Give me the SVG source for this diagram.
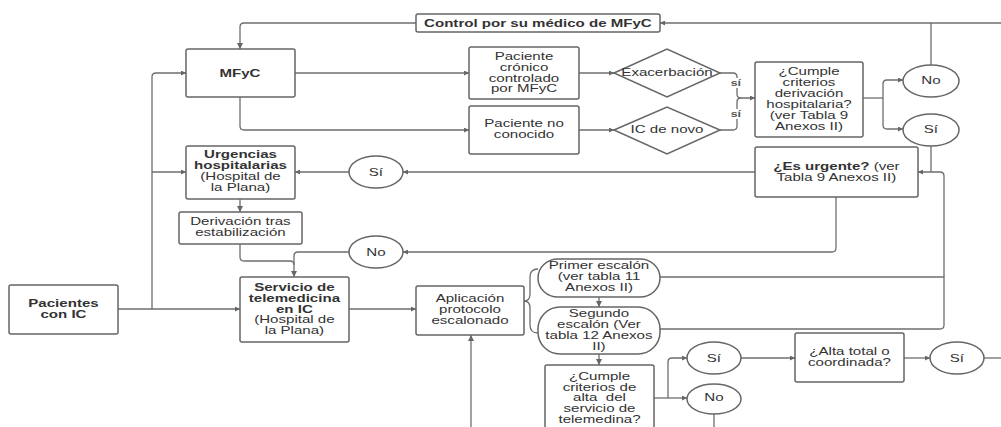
<svg xmlns="http://www.w3.org/2000/svg" width="1001" height="427" viewBox="0 0 1001 427">
<style>
rect,polygon,ellipse{fill:#fff;stroke:#666;stroke-width:1.5}
.c path{fill:none;stroke:#6e6e6e;stroke-width:1.3}
text{font-family:"Liberation Sans",Arial,sans-serif;font-size:11px;fill:#333;text-anchor:middle;transform-box:fill-box;transform-origin:center;transform:scaleX(1.37)}
.b{font-weight:bold}
.s{font-size:9px;font-weight:bold;fill:#555}
</style>
<defs>
<marker id="ah" viewBox="0 0 10 10" refX="10" refY="5" markerWidth="9" markerHeight="5" markerUnits="userSpaceOnUse" orient="auto"><path d="M0,0L10,5L0,10z" fill="#666"/></marker>
<marker id="av" viewBox="0 0 10 10" refX="10" refY="5" markerWidth="7" markerHeight="6" markerUnits="userSpaceOnUse" orient="auto"><path d="M0,0L10,5L0,10z" fill="#666"/></marker>
</defs>
<rect x="0" y="0" width="1001" height="427" style="fill:#fff;stroke:none"/>
<g class="c" id="connectors">
<path d="M1001,23H660" marker-end="url(#ah)"/>
<path d="M931,65V23"/>
<path d="M416,23H244Q240,23 240,27V49" marker-end="url(#av)"/>
<path d="M118,309H240" marker-end="url(#ah)"/>
<path d="M152,309V77Q152,73 156,73H186" marker-end="url(#ah)"/>
<path d="M152,172H186" marker-end="url(#ah)"/>
<path d="M295,73H469" marker-end="url(#ah)"/>
<path d="M240,97V126Q240,130 244,130H469" marker-end="url(#ah)"/>
<path d="M579,73H614" marker-end="url(#ah)"/>
<path d="M579,130H614" marker-end="url(#ah)"/>
<path d="M720,73H733Q737,73 737,77V94Q737,98 741,98H755" marker-end="url(#ah)"/>
<path d="M720,130H733Q737,130 737,126V102Q737,98 741,98"/>
<path d="M863,98H883"/>
<path d="M883,98V84Q883,80 887,80H903" marker-end="url(#ah)"/>
<path d="M883,98V125Q883,129 887,129H903" marker-end="url(#ah)"/>
<path d="M931,146V172"/>
<path d="M944,277V176Q944,172 940,172H918" marker-end="url(#ah)"/>
<path d="M660,277H944V325Q944,329 940,329H651" marker-end="url(#ah)"/>
<path d="M755,172H403" marker-end="url(#ah)"/>
<path d="M349,172H295" marker-end="url(#ah)"/>
<path d="M836,197V248Q836,252 832,252H403" marker-end="url(#ah)"/>
<path d="M349,252H298Q294,252 294,256V277" marker-end="url(#av)"/>
<path d="M240,199V212" marker-end="url(#av)"/>
<path d="M240,244V257Q240,261 244,261H290Q294,261 294,265"/>
<path d="M349,309H416" marker-end="url(#ah)"/>
<path d="M471,427V335" marker-end="url(#av)"/>
<path d="M538,269Q530,269 530,277V294Q530,301 524,301Q530,301 530,308V325Q530,333 538,333"/>
<path d="M599,297V307" marker-end="url(#av)"/>
<path d="M599,354V365" marker-end="url(#av)"/>
<path d="M654,398H668"/>
<path d="M668,398V362Q668,358 672,358H687" marker-end="url(#ah)"/>
<path d="M668,398H687" marker-end="url(#ah)"/>
<path d="M741,358H795" marker-end="url(#ah)"/>
<path d="M904,358H930" marker-end="url(#ah)"/>
<path d="M984,358H1001"/>
<path d="M714,414V427"/>
</g>
<g id="control"><rect x="416" y="14" width="244" height="18" rx="2"/><text class="b" x="538" y="27">Control por su médico de MFyC</text></g>
<g id="mfyc"><rect x="186" y="49" width="109" height="48" rx="2"/><text class="b" x="240" y="77">MFyC</text></g>
<g id="cronico"><rect x="469" y="47" width="110" height="52" rx="2"/><text x="524" y="60">Paciente<tspan x="524" y="70.8">crónico</tspan><tspan x="524" y="81.6">controlado</tspan><tspan x="524" y="92.4">por MFyC</tspan></text></g>
<g id="noconocido"><rect x="469" y="106" width="110" height="48" rx="2"/><text x="524" y="127">Paciente no<tspan x="524" y="138">conocido</tspan></text></g>
<g id="exacerbacion"><polygon points="614,73 667,49 720,73 667,97"/><text x="667" y="76">Exacerbación</text></g>
<g id="icnovo"><polygon points="614,130 667,107 720,130 667,154"/><text x="667" y="133">IC de novo</text></g>
<g id="si-labels"><rect x="731" y="78" width="11" height="10" style="stroke:none"/><rect x="731" y="109" width="11" height="10" style="stroke:none"/><text class="s" x="736" y="86">sí</text><text class="s" x="736" y="117">sí</text></g>
<g id="criterios"><rect x="755" y="62" width="108" height="75" rx="2"/><text x="809" y="75">¿Cumple<tspan x="809" y="86">criterios</tspan><tspan x="809" y="97">derivación</tspan><tspan x="809" y="108">hospitalaria?</tspan><tspan x="809" y="119">(ver Tabla 9</tspan><tspan x="809" y="130">Anexos II)</tspan></text></g>
<g id="no1"><ellipse cx="931" cy="81" rx="28" ry="16"/><text x="931" y="84">No</text></g>
<g id="si1"><ellipse cx="931" cy="130" rx="28" ry="16"/><text x="931" y="133">Sí</text></g>
<g id="urgente"><rect x="755" y="147" width="163" height="50" rx="2"/><text x="836.5" y="170"><tspan class="b">¿Es urgente?</tspan> (ver<tspan x="836.5" y="181">Tabla 9 Anexos II)</tspan></text></g>
<g id="si2"><ellipse cx="376" cy="172" rx="27" ry="16"/><text x="376" y="176">Sí</text></g>
<g id="urgencias"><rect x="186" y="146" width="109" height="53" rx="2"/><text x="240.5" y="158"><tspan class="b">Urgencias</tspan><tspan class="b" x="240.5" y="169">hospitalarias</tspan><tspan x="240.5" y="180">(Hospital de</tspan><tspan x="240.5" y="191">la Plana)</tspan></text></g>
<g id="derivacion"><rect x="179" y="212" width="123" height="32" rx="2"/><text x="240.5" y="225">Derivación tras<tspan x="240.5" y="236">estabilización</tspan></text></g>
<g id="no2"><ellipse cx="376" cy="252" rx="27" ry="16"/><text x="376" y="256">No</text></g>
<g id="pacientes"><rect x="9" y="285" width="109" height="49" rx="2"/><text class="b" x="63.5" y="307">Pacientes<tspan x="63.5" y="318">con IC</tspan></text></g>
<g id="servicio"><rect x="240" y="277" width="109" height="65" rx="2"/><text x="294.5" y="291"><tspan class="b">Servicio de</tspan><tspan class="b" x="294.5" y="302">telemedicina</tspan><tspan class="b" x="294.5" y="313">en IC</tspan><tspan x="294.5" y="323.5">(Hospital de</tspan><tspan x="294.5" y="334">la Plana)</tspan></text></g>
<g id="aplicacion"><rect x="416" y="286" width="108" height="49" rx="2"/><text x="470" y="302">Aplicación<tspan x="470" y="313">protocolo</tspan><tspan x="470" y="324">escalonado</tspan></text></g>
<g id="primer"><rect x="538" y="259" width="122" height="38" rx="20" ry="19"/><text x="599" y="269">Primer escalón<tspan x="599" y="280">(ver tabla 11</tspan><tspan x="599" y="291">Anexos II)</tspan></text></g>
<g id="segundo"><rect x="538" y="307" width="122" height="47" rx="22" ry="22"/><text x="599" y="317">Segundo<tspan x="599" y="328">escalón (Ver</tspan><tspan x="599" y="339">tabla 12 Anexos</tspan><tspan x="599" y="350">II)</tspan></text></g>
<g id="alta"><rect x="545" y="365" width="109" height="70" rx="2"/><text x="599.5" y="380">¿Cumple<tspan x="599.5" y="391">criterios de</tspan><tspan x="599.5" y="401.5" style="white-space:pre">alta  del</tspan><tspan x="599.5" y="412">servicio de</tspan><tspan x="599.5" y="423">telemedina?</tspan></text></g>
<g id="si3"><ellipse cx="714" cy="358" rx="27" ry="16"/><text x="714" y="362">Sí</text></g>
<g id="no3"><ellipse cx="714" cy="399" rx="27" ry="15"/><text x="714" y="401">No</text></g>
<g id="altatotal"><rect x="795" y="333" width="109" height="49" rx="2"/><text x="849.5" y="355">¿Alta total o<tspan x="849.5" y="366">coordinada?</tspan></text></g>
<g id="si4"><ellipse cx="957" cy="358" rx="27" ry="16"/><text x="957" y="362">Sí</text></g>
</svg>
